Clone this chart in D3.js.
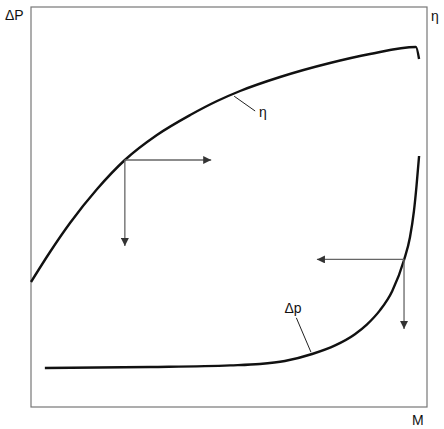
<!DOCTYPE html>
<html>
<head>
<meta charset="utf-8">
<script src="https://cdn.jsdelivr.net/npm/d3@7"></script>
<style>
  body { margin: 0; background: #fff; }
  text { font-family: "Liberation Sans", Arial, sans-serif; fill: #111; }
</style>
</head>
<body>
<div id="root"></div>
<script>
// curves, in chart units (M on x, 0..100; value on y, 0..100)
const etaM   = [0, 4.8, 9.85, 16.7, 23.7, 31.8, 40.2, 47, 52.8, 62.9, 75.5, 85.6, 97.2, 98]
const etaVal = [31.25, 38.75, 46, 54.5, 61.75, 68, 73, 76.5, 79, 82.5, 86, 88.25, 90, 87]

const dpM   = [3.5, 30.1, 50.3, 57.8, 64.1, 71, 76.8, 81.8, 84.8, 88.1, 91.2, 94.2, 95.7, 96.7, 97.35, 98]
const dpVal = [9.75, 10, 10.4, 10.75, 11.5, 13.25, 15.4, 18.2, 20.6, 24.15, 28.95, 36.75, 42.45, 48.95, 55.25, 62.75]

// arrows: [fromM, fromVal, toM, toVal]
const arrows = [
    [23.7, 61.75, 45.5, 61.75],
    [23.7, 61.75, 23.7, 40.25],
    [94.2, 36.9, 72.2, 36.9],
    [94.2, 36.9, 94.2, 19.5]
]

// curve labels with leader lines: [text, textM, textVal, lineFromM, lineFromVal, lineToM, lineToVal]
const curveLabels = [
    ["η", 57.6, 72.5, 51.3, 77.7, 56.6, 74],
    ["Δp", 64, 23.5, 67, 22.3, 70.7, 13.7]
]

const axisLabels = { left: "ΔP", right: "η", bottom: "M" }

function drawChart() {
    const w = 444, h = 429
    const box = { left: 31, right: 427, top: 7, bottom: 407 }

    //scales
    const x = d3.scaleLinear().domain([0, 100]).range([box.left, box.right])
    const y = d3.scaleLinear().domain([0, 100]).range([box.bottom, box.top])

    const svg = d3.select("#root").append("svg")
        .attr("width", w)
        .attr("height", h)

    const defs = svg.append("defs")
    defs.append("marker")
        .attr("id", "head")
        .attr("viewBox", "0 0 10 10")
        .attr("refX", 10)
        .attr("refY", 5)
        .attr("markerWidth", 10)
        .attr("markerHeight", 8)
        .attr("markerUnits", "userSpaceOnUse")
        .attr("orient", "auto")
        .append("path")
        .attr("d", "M0,0 L10,5 L0,10 Z")
        .attr("fill", "#333")

    // frame
    svg.append("rect")
        .attr("x", x(0)).attr("y", y(100))
        .attr("width", x(100) - x(0))
        .attr("height", y(0) - y(100))
        .attr("fill", "none")
        .attr("stroke", "#777")
        .attr("stroke-width", 1.2)

    const line = d3.line()
        .x(d => x(d[0]))
        .y(d => y(d[1]))
        .curve(d3.curveMonotoneX)

    const etaData = etaM.map((m, i) => [m, etaVal[i]])
    const dpData = dpM.map((m, i) => [m, dpVal[i]])

    svg.append("path").datum(etaData)
        .attr("d", line)
        .attr("fill", "none")
        .attr("stroke", "#111")
        .attr("stroke-width", 2.4)
        .attr("stroke-linejoin", "round")

    svg.append("path").datum(dpData)
        .attr("d", line)
        .attr("fill", "none")
        .attr("stroke", "#111")
        .attr("stroke-width", 2.4)

    // arrows
    svg.selectAll("line.arrow").data(arrows).enter().append("line")
        .attr("class", "arrow")
        .attr("x1", d => x(d[0])).attr("y1", d => y(d[1]))
        .attr("x2", d => x(d[2])).attr("y2", d => y(d[3]))
        .attr("stroke", "#666")
        .attr("stroke-width", 1.3)
        .attr("marker-end", "url(#head)")

    // curve labels
    svg.selectAll("line.leader").data(curveLabels).enter().append("line")
        .attr("class", "leader")
        .attr("x1", d => x(d[3])).attr("y1", d => y(d[4]))
        .attr("x2", d => x(d[5])).attr("y2", d => y(d[6]))
        .attr("stroke", "#222")
        .attr("stroke-width", 1)

    svg.selectAll("text.clabel").data(curveLabels).enter().append("text")
        .attr("class", "clabel")
        .attr("x", d => x(d[1]))
        .attr("y", d => y(d[2]))
        .attr("font-size", 14)
        .text(d => d[0])

    // axis names
    svg.append("text")
        .attr("x", 5).attr("y", 20)
        .attr("font-size", 14)
        .text(axisLabels.left)
    svg.append("text")
        .attr("x", 431).attr("y", 21)
        .attr("font-size", 14)
        .text(axisLabels.right)
    svg.append("text")
        .attr("x", 412).attr("y", 425)
        .attr("font-size", 14)
        .text(axisLabels.bottom)
}

drawChart()
</script>
</body>
</html>
